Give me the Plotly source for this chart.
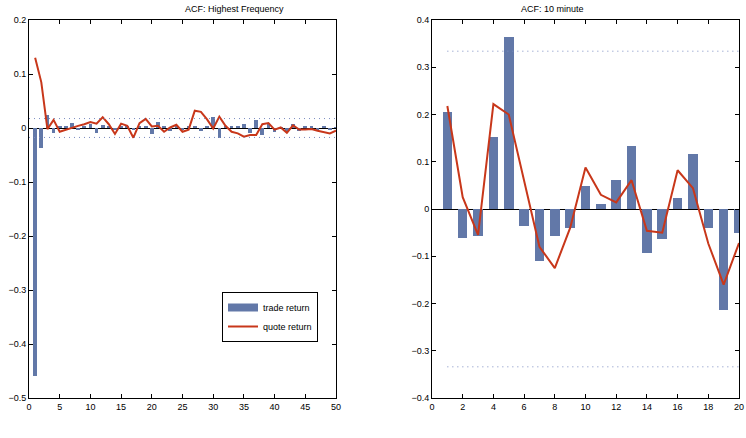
import plotly.graph_objects as go

# ---------------- data ----------------
lags_hf = list(range(1, 51))
trade_hf = [-0.460, -0.037, 0.025, -0.010, 0.003, 0.002, 0.009, -0.004, 0.003, 0.008,
            -0.010, 0.006, 0.002, -0.003, 0.003, 0.002, -0.004, 0.003, 0.004, -0.012,
            0.012, 0.004, -0.006, 0.003, -0.004, 0.002, 0.004, -0.005, 0.003, 0.020,
            -0.018, 0.002, 0.004, 0.004, 0.007, -0.010, 0.015, -0.013, 0.010, -0.008,
            0.001, -0.005, 0.008, -0.005, 0.004, 0.004, -0.002, 0.002, -0.003, 0.001]
quote_hf = [0.130, 0.085, -0.002, 0.015, -0.007, -0.003, 0.001, 0.004, 0.007, 0.011,
            0.008, 0.020, 0.007, -0.011, 0.008, 0.004, -0.018, 0.009, 0.017, 0.003,
            0.004, -0.007, 0.001, 0.006, -0.007, -0.003, 0.032, 0.030, 0.016, -0.001,
            0.021, 0.004, -0.007, -0.010, -0.016, -0.013, -0.013, 0.007, 0.009, -0.003,
            0.001, -0.009, 0.005, -0.003, -0.003, -0.002, -0.005, -0.008, -0.010, -0.005]
band_hf = 0.0175
band_hf_x = [0, 50]

lags_10 = list(range(1, 21))
trade_10 = [0.205, -0.062, -0.057, 0.152, 0.365, -0.035, -0.110, -0.058, -0.040, 0.049,
            0.011, 0.062, 0.134, -0.094, -0.063, 0.023, 0.117, -0.040, -0.214, -0.051]
quote_10 = [0.218, 0.025, -0.055, 0.222, 0.200, 0.060, -0.080, -0.125, -0.040, 0.088,
            0.030, 0.014, 0.061, -0.046, -0.050, 0.082, 0.044, -0.073, -0.160, -0.072]
band_10 = 0.334
band_10_x = [1, 20]

titles = ["ACF: Highest Frequency", "ACF: 10 minute"]
series_names = ["trade return", "quote return"]

BAR = "#6278a8"
LINE = "#c8371a"
BANDC = "#7a8cc0"
FONT = "Liberation Sans, Arial, sans-serif"
DOT = "1px,4px"

fig = go.Figure()

# left panel
fig.add_trace(go.Bar(x=lags_hf, y=trade_hf, width=0.6, marker=dict(color=BAR, line=dict(width=0)),
                     name=series_names[0], showlegend=False, xaxis="x", yaxis="y"))
fig.add_trace(go.Scatter(x=lags_hf, y=quote_hf, mode="lines", line=dict(color=LINE, width=2),
                         name=series_names[1], showlegend=False, xaxis="x", yaxis="y"))
for s in (1, -1):
    fig.add_trace(go.Scatter(x=band_hf_x, y=[s * band_hf] * 2, mode="lines",
                             line=dict(color=BANDC, width=1, dash=DOT),
                             showlegend=False, hoverinfo="skip", xaxis="x", yaxis="y"))

# legend entries (wide swatches like the original)
fig.add_trace(go.Scatter(x=[None], y=[None], mode="lines", line=dict(color=BAR, width=8),
                         name=series_names[0], xaxis="x", yaxis="y"))
fig.add_trace(go.Scatter(x=[None], y=[None], mode="lines", line=dict(color=LINE, width=2),
                         name=series_names[1], xaxis="x", yaxis="y"))

# right panel
fig.add_trace(go.Bar(x=lags_10, y=trade_10, width=0.62, marker=dict(color=BAR, line=dict(width=0)),
                     name=series_names[0], showlegend=False, xaxis="x2", yaxis="y2"))
fig.add_trace(go.Scatter(x=lags_10, y=quote_10, mode="lines", line=dict(color=LINE, width=2),
                         name=series_names[1], showlegend=False, xaxis="x2", yaxis="y2"))
for s in (1, -1):
    fig.add_trace(go.Scatter(x=band_10_x, y=[s * band_10] * 2, mode="lines",
                             line=dict(color=BANDC, width=1, dash=DOT),
                             showlegend=False, hoverinfo="skip", xaxis="x2", yaxis="y2"))

W, H = 746, 438
xd1 = [29 / W, 336 / W]
xd2 = [432 / W, 739 / W]
yd = [1 - 398 / H, 1 - 20 / H]

axis_common = dict(showline=True, linecolor="black", linewidth=1, mirror="allticks",
                   ticks="inside", ticklen=4, tickcolor="black", showgrid=False,
                   tickfont=dict(family=FONT, size=9, color="black"), automargin=False)

fig.update_layout(
    width=W, height=H,
    margin=dict(l=0, r=0, t=0, b=0),
    paper_bgcolor="white", plot_bgcolor="white",
    font=dict(family=FONT, size=9, color="black"),
    bargap=0,
    xaxis=dict(domain=xd1, range=[0, 50], dtick=5, tick0=0, zeroline=False, anchor="y", **axis_common),
    yaxis=dict(domain=yd, range=[-0.5, 0.2], dtick=0.1, tick0=0, zeroline=True, zerolinecolor="black",
               zerolinewidth=1, anchor="x", **axis_common),
    xaxis2=dict(domain=xd2, range=[0, 20], dtick=2, tick0=0, zeroline=False, anchor="y2", **axis_common),
    yaxis2=dict(domain=yd, range=[-0.4, 0.4], dtick=0.1, tick0=0, zeroline=True, zerolinecolor="black",
                zerolinewidth=1, anchor="x2", **axis_common),
    legend=dict(x=222 / W, xanchor="left", y=1 - 292 / H, yanchor="top",
                bordercolor="black", borderwidth=1, bgcolor="white",
                font=dict(family=FONT, size=9, color="black"), tracegroupgap=0,
                itemwidth=30),
    showlegend=True,
    annotations=[
        dict(text=titles[0], x=(xd1[0] + xd1[1]) / 2, y=1 - 9 / H, xref="paper", yref="paper",
             showarrow=False, font=dict(family=FONT, size=9, color="black"), yanchor="middle"),
        dict(text=titles[1], x=(xd2[0] + xd2[1]) / 2, y=1 - 9 / H, xref="paper", yref="paper",
             showarrow=False, font=dict(family=FONT, size=9, color="black"), yanchor="middle"),
    ],
)

fig.write_html("out.html")
